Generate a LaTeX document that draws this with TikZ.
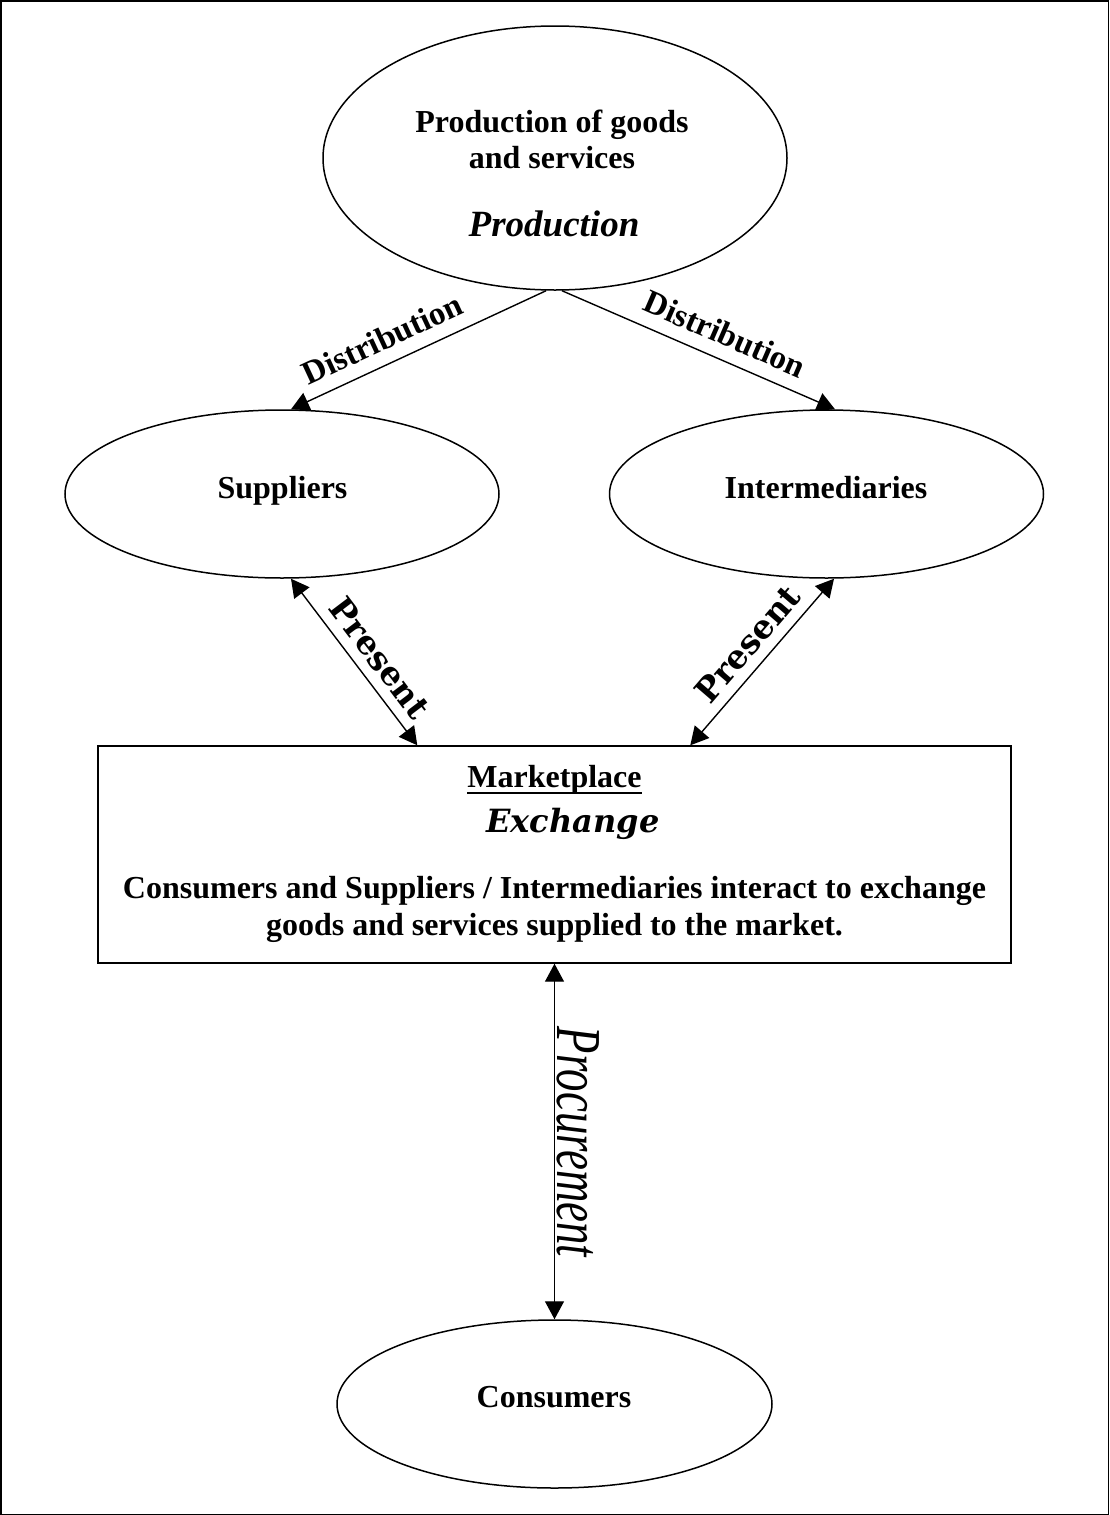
\documentclass[tikz,border=0pt]{standalone}
\usepackage{fontspec}
\usepackage{graphicx}
\setmainfont{Liberation Serif}
% wide serif for the Present and Exchange labels
\newfontfamily\wideserif{DejaVu Serif}
\usetikzlibrary{shapes.geometric,arrows.meta,calc}

% word underline that runs through the descenders
\newcommand\ulword[1]{\setbox0\hbox{#1}\rlap{\vrule height -5pt depth 7pt width \wd0}\box0}

\begin{document}
\begin{tikzpicture}[x=1pt,y=1pt,
  oval/.style={ellipse, draw, line width=1.5pt, minimum width=434pt, minimum height=168pt, inner sep=0pt},
  body/.style={font=\fontsize{32}{37}\selectfont\bfseries, inner sep=0pt, anchor=base, align=center},
  conn/.style={line width=1.4pt},
  onehead/.style={-{Triangle[length=18pt,width=19pt]}},
  twoheads/.style={{Triangle[length=18pt,width=19pt]}-{Triangle[length=18pt,width=19pt]}},
  flowlbl/.style={inner sep=0pt, sloped},
]
\useasboundingbox (0,0) rectangle (1109,-1515);
\draw[line width=1.5pt] (0.75,-0.75) rectangle (1108.25,-1514.25);

% shapes
\node[oval, minimum width=464pt, minimum height=264pt] (prod) at (555,-158) {};
\node[oval] (sup) at (282,-494) {};
\node[oval] (int) at (826.5,-494) {};
\node[draw, line width=1.4pt, minimum width=913pt, minimum height=217pt, inner sep=0pt] (mkt) at (554.5,-854.5) {};
\node[oval, minimum width=435pt] (con) at (554.5,-1404) {};

% texts
\node[body, font=\fontsize{32}{36}\selectfont\bfseries] (prodtxt) at (552,-168) {Production of goods\\and services};
\node[inner sep=0pt, anchor=base, font=\fontsize{37}{42}\selectfont\bfseries\itshape] (prodword) at (554,-236) {Production};
\node[body] (suptxt) at (282.5,-498) {Suppliers};
\node[body] (inttxt) at (826,-498) {Intermediaries};
\node[body] (contxt) at (554,-1407) {Consumers};
\node[body] (mkttitle) at (554.5,-787) {\ulword{Marketplace}};
\node[inner sep=0pt, anchor=base, font=\fontsize{32}{36}\wideserif\bfseries\itshape] (exch) at (573,-832) {Exchange};
\node[body] (mktdesc) at (554.5,-935) {Consumers and Suppliers / Intermediaries interact to exchange\\goods and services supplied to the market.};

% distribution
\draw[conn, onehead] ($(prod.south)+(-9,0)$) --
  node[flowlbl, above=13pt, pos=0.6, font=\fontsize{33}{36}\selectfont\bfseries] (distL) {Distribution}
  ($(sup.north)+(9,0)$);
\draw[conn, onehead] ($(prod.south)+(7,0)$) --
  node[flowlbl, above=13pt, pos=0.56, font=\fontsize{33}{36}\selectfont\bfseries] (distR) {Distribution}
  ($(int.north)+(8.5,0)$);

% presentation to the marketplace
\draw[conn, twoheads] ($(sup.south)+(9,0)$) --
  node[flowlbl, above=10pt, pos=0.56, font=\fontsize{33}{40}\wideserif\bfseries] (presL) {Present}
  ($(mkt.north west)+(320,0)$);
\draw[conn, twoheads] ($(mkt.north west)+(593,0)$) --
  node[flowlbl, above=10pt, pos=0.52, font=\fontsize{33}{40}\wideserif\bfseries] (presR) {Present}
  ($(int.south)+(7.5,0)$);

% procurement
\draw[conn, twoheads] (mkt.south) -- (con.north);
\node[rotate=-90, anchor=base, inner sep=0pt, font=\fontsize{64}{70}\selectfont\itshape] (proc) at (557,-1142) {\scalebox{0.70}[1]{Procurement}};
\end{tikzpicture}
\end{document}
